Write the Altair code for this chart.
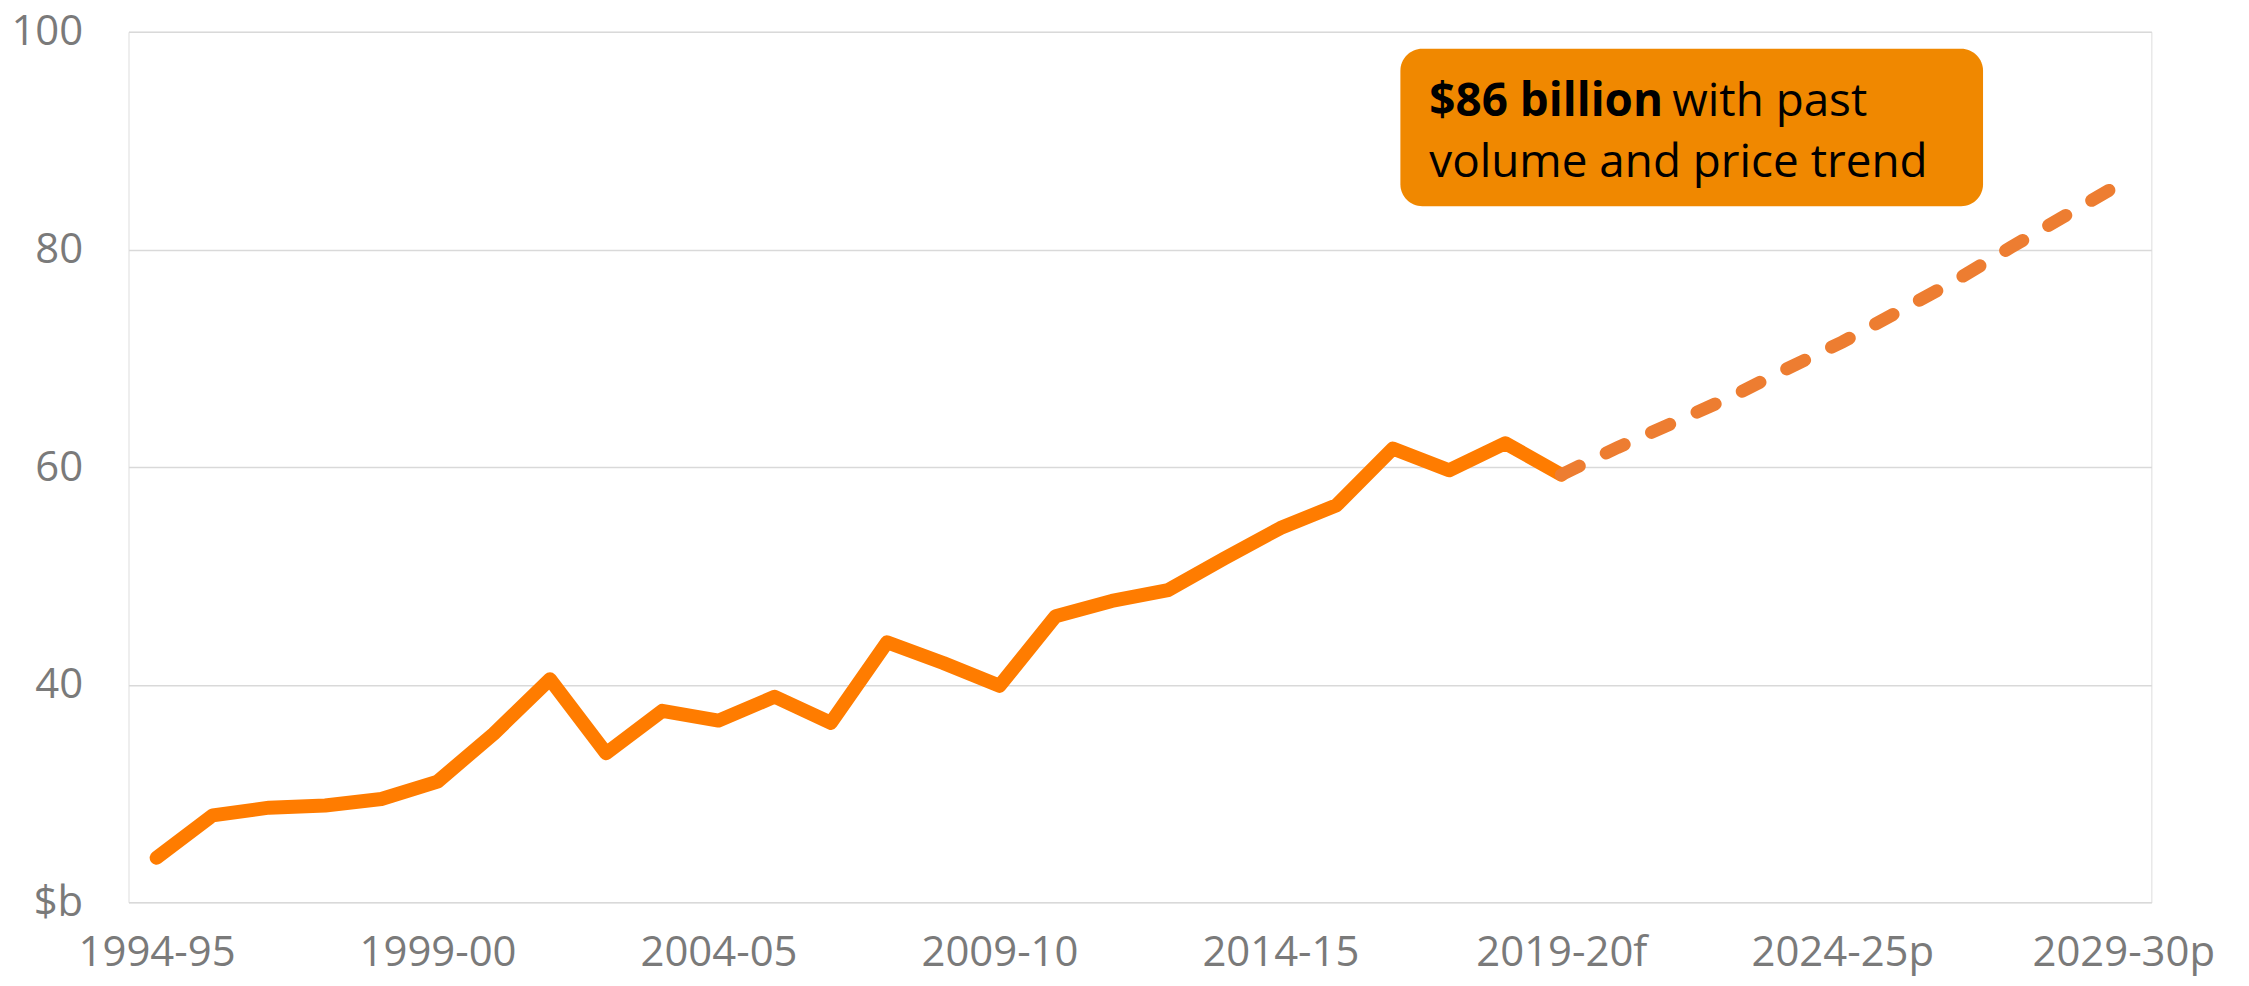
import altair as alt
import pandas as pd

# ---- data ----
actual_cats = ["1994-95", "1995-96", "1996-97", "1997-98", "1998-99", "1999-00",
               "2000-01", "2001-02", "2002-03", "2003-04", "2004-05", "2005-06",
               "2006-07", "2007-08", "2008-09", "2009-10", "2010-11", "2011-12",
               "2012-13", "2013-14", "2014-15", "2015-16", "2016-17", "2017-18",
               "2018-19", "2019-20f"]
actual_vals = [24.1, 28.0, 28.7, 28.9, 29.5, 31.1,
               35.5, 40.5, 33.7, 37.6, 36.7, 38.9,
               36.5, 43.9, 42.0, 39.9, 46.3, 47.7,
               48.7, 51.6, 54.4, 56.5, 61.7, 59.7,
               62.2, 59.3]

proj_cats = ["2019-20f", "2020-21p", "2021-22p", "2022-23p", "2023-24p", "2024-25p",
             "2025-26p", "2026-27p", "2027-28p", "2028-29p", "2029-30p"]
proj_vals = [59.3, 61.8, 64.1, 66.4, 69.0, 71.5, 74.3, 77.1, 80.2, 83.2, 86.2]

all_cats = actual_cats + proj_cats[1:]
label_cats = ["1994-95", "1999-00", "2004-05", "2009-10", "2014-15",
              "2019-20f", "2024-25p", "2029-30p"]
y_ticks = [20, 40, 60, 80, 100]

note_bold = "$86 billion"
note_rest1 = "with past"
note_line2 = "volume and price trend"

FONT = "Open Sans"
GREY = "#7a7a7a"

actual_df = pd.DataFrame({"cat": actual_cats, "value": actual_vals})
proj_df = pd.DataFrame({"cat": proj_cats, "value": proj_vals})

x_enc = alt.X(
    "cat:N",
    sort=all_cats,
    scale=alt.Scale(type="point", domain=all_cats, padding=0.5),
    axis=alt.Axis(
        values=label_cats, title=None, labelAngle=0, labelFontSize=42,
        labelFont=FONT, labelColor=GREY, labelPadding=30, ticks=False,
        domain=False, grid=False, labelOverlap=False, labelBound=False,
        labelLimit=0,
    ),
)
y_enc = alt.Y(
    "value:Q",
    scale=alt.Scale(domain=[20, 100], nice=False, zero=False),
    axis=alt.Axis(
        values=y_ticks, title=None, labelFontSize=42, labelFont=FONT,
        labelColor=GREY, labelPadding=46, ticks=False, domain=False,
        grid=True, gridColor="#d9d9d9", gridWidth=1.5, labelLimit=0,
        labelExpr="datum.value == 20 ? '$b' : datum.label",
    ),
)

solid = alt.Chart(actual_df).mark_line(
    color="#FF7C00", strokeWidth=14, strokeJoin="round", strokeCap="round"
).encode(x=x_enc, y=y_enc)

dashed = alt.Chart(proj_df).mark_line(
    color="#ED7D31", strokeWidth=13, strokeCap="round", strokeDash=[20, 30]
).encode(x=alt.X("cat:N", sort=all_cats), y="value:Q")

box = alt.Chart(pd.DataFrame({"k": [0]})).mark_rect(
    color="#F08800", cornerRadius=22
).encode(x=alt.value(1277), x2=alt.value(1862), y=alt.value(17), y2=alt.value(175))

txt1 = alt.Chart(pd.DataFrame({"t": [note_bold]})).mark_text(
    align="left", baseline="alphabetic", font=FONT, fontSize=46,
    fontWeight="bold", color="#000000"
).encode(x=alt.value(1306), y=alt.value(84), text="t:N")

txt2 = alt.Chart(pd.DataFrame({"t": [note_rest1]})).mark_text(
    align="left", baseline="alphabetic", font=FONT, fontSize=46,
    color="#000000"
).encode(x=alt.value(1550), y=alt.value(84), text="t:N")

txt3 = alt.Chart(pd.DataFrame({"t": [note_line2]})).mark_text(
    align="left", baseline="alphabetic", font=FONT, fontSize=46,
    color="#000000"
).encode(x=alt.value(1306), y=alt.value(146), text="t:N")

chart = alt.layer(solid, dashed, box, txt1, txt2, txt3).properties(
    width=2031, height=874,
    autosize="none",
    padding={"left": 121, "top": 22, "right": 90, "bottom": 75},
).configure_view(stroke=None).configure(background="white")

chart.save("out.html", embed_options={"renderer": "svg", "actions": False})
